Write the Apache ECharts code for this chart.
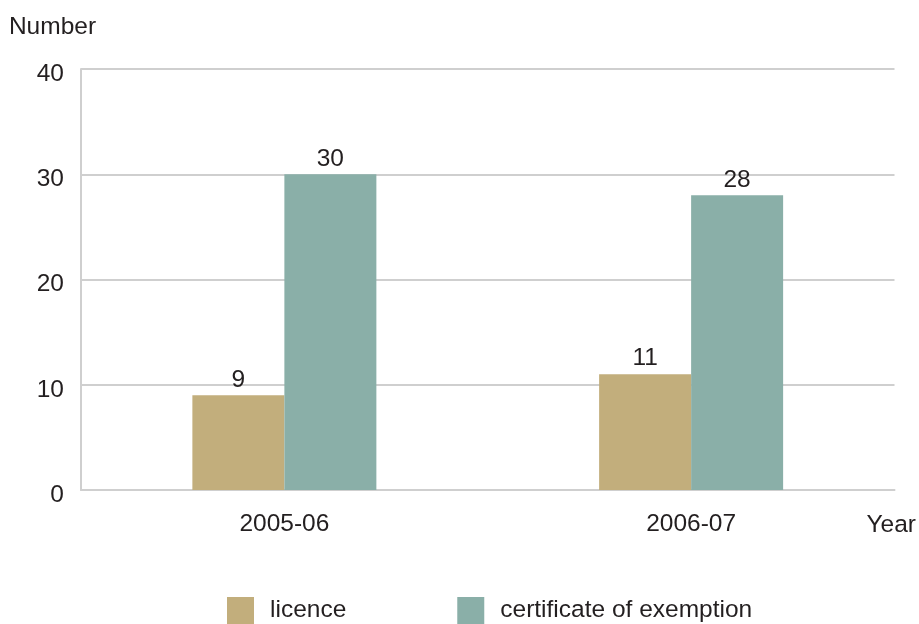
<!DOCTYPE html>
<html>
<head>
<meta charset="utf-8">
<script src="https://cdn.jsdelivr.net/npm/echarts@6/dist/echarts.min.js"></script>
<style>
html,body{margin:0;padding:0;background:#fff;}
#chart{width:919px;height:624px;}
</style>
</head>
<body>
<div id="chart"></div>
<script>
const categories = ['2005-06', '2006-07'];
const licence = [9, 11];
const certificate = [30, 28];
const seriesNames = ['licence', 'certificate of exemption'];
const yTicks = { min: 0, max: 40, interval: 10 };

const FONT = 'Liberation Sans, Arial, Helvetica, sans-serif';
const FS = 24.5;
const TXT = '#231f20';
const GRID = '#cfcfcf';

const chart = echarts.init(document.getElementById('chart'));
chart.setOption({
  animation: false,
  textStyle: { fontFamily: FONT },
  grid: { left: 81, right: 23, top: 69, bottom: 134 },
  legend: {
    left: 222, top: 592,
    itemWidth: 27, itemHeight: 27, itemGap: 111,
    icon: 'rect',
    textStyle: { fontSize: FS, color: TXT, fontFamily: FONT, padding: [0, 0, 0, 11] },
    data: seriesNames
  },
  xAxis: {
    type: 'category',
    data: categories,
    name: 'Year',
    nameLocation: 'end',
    nameGap: -28,
    nameTextStyle: { fontSize: FS, color: TXT, fontFamily: FONT, align: 'left', verticalAlign: 'top', padding: [23, 0, 0, 0] },
    axisLine: { show: true, lineStyle: { color: GRID, width: 2 } },
    axisTick: { show: false },
    axisLabel: { fontSize: FS, color: TXT, margin: 22, fontFamily: FONT }
  },
  yAxis: {
    type: 'value',
    min: yTicks.min, max: yTicks.max, interval: yTicks.interval,
    name: 'Number',
    nameLocation: 'end',
    nameGap: 42,
    nameTextStyle: { fontSize: FS, color: TXT, fontFamily: FONT, align: 'center', verticalAlign: 'middle', padding: [0, 57, 0, 0] },
    axisLine: { show: true, lineStyle: { color: GRID, width: 2 } },
    axisTick: { show: false },
    axisLabel: { fontSize: FS, color: TXT, margin: 17, fontFamily: FONT, verticalAlign: 'top', lineHeight: 10 },
    splitLine: { show: true, lineStyle: { color: GRID, width: 2 } }
  },
  series: [
    {
      name: seriesNames[0], type: 'bar', data: licence,
      barWidth: 92, barGap: '0%',
      itemStyle: { color: '#c2ae7c' },
      label: { show: true, position: 'top', distance: 3, fontSize: FS, color: TXT, fontFamily: FONT }
    },
    {
      name: seriesNames[1], type: 'bar', data: certificate,
      barWidth: 92, barGap: '0%',
      itemStyle: { color: '#8aafa8' },
      label: { show: true, position: 'top', distance: 3, fontSize: FS, color: TXT, fontFamily: FONT }
    }
  ]
});
</script>
</body>
</html>
